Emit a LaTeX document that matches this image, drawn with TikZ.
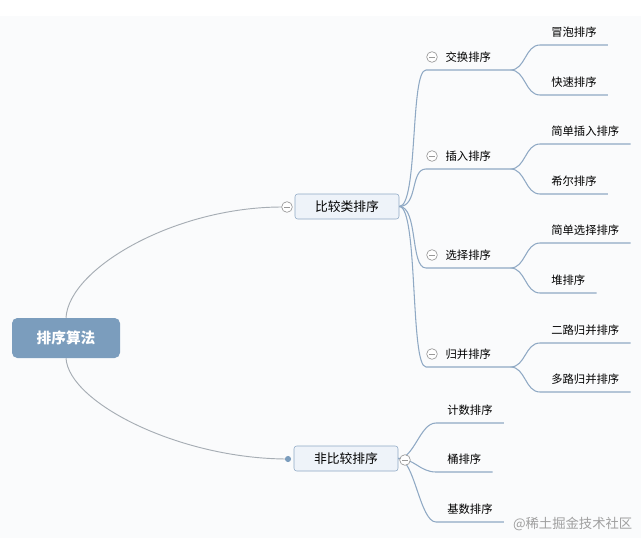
\documentclass[tikz,border=0pt]{standalone}
\usepackage{fontspec}
\newfontfamily\cjk{Noto Sans CJK SC}
\usetikzlibrary{positioning}

\definecolor{rootblue}{HTML}{7B9DBD}
\definecolor{boxfill}{HTML}{EEF3F9}
\definecolor{boxline}{HTML}{8EA9C5}
\definecolor{twigc}{HTML}{8FA9C4}
\definecolor{stemc}{HTML}{A6ADB4}
\definecolor{paper}{HTML}{FAFBFC}

\begin{document}
\begin{tikzpicture}[
    x=0.75pt, y=-0.75pt,
    font=\cjk,
    root/.style={fill=rootblue, rounded corners=4pt, minimum width=81pt, minimum height=30pt, text=white, font=\cjk\fontsize{11}{13}\selectfont\bfseries},
    topic/.style={draw=boxline, fill=boxfill, rounded corners=2pt, minimum width=78pt, minimum height=18.75pt, font=\cjk\fontsize{9.6}{11}\selectfont},
    sub/.style={minimum width=63pt, minimum height=19.5pt, inner sep=0pt, anchor=south west, font=\cjk\fontsize{8.5}{10}\selectfont},
    leaf/.style={minimum height=19.5pt, inner xsep=8.25pt, inner ysep=0pt, anchor=south west, font=\cjk\fontsize{8.5}{10}\selectfont},
    fold/.style={circle, draw=gray!80, fill=white, minimum size=8pt, inner sep=0pt, line width=0.5pt,
        path picture={\draw[gray!80, line width=0.5pt] ([xshift=2pt]path picture bounding box.west) -- ([xshift=-2pt]path picture bounding box.east);}},
    stem/.style={draw=stemc, line width=0.7pt},
    twig/.style={draw=twigc, line width=0.8pt}
]
\fill[white] (0,0) rectangle (641,538);
\fill[paper] (0,16) rectangle (641,538);
\useasboundingbox (0,0) rectangle (641,538);

\node[root] (root) at (66,338) {排序算法};

\node[topic] (cmp) at (347,206.5) {比较类排序};
\node[topic] (noncmp) at (346,458.5) {非比较排序};

% comparison sorts
\node[sub] (swap) at (426,70) {交换排序};
\node[sub] (insert) at (426,169) {插入排序};
\node[sub] (select) at (426,268) {选择排序};
\node[sub] (merge) at (426,367) {归并排序};

\node[leaf] (bubble) at (540,45) {冒泡排序};
\node[leaf] (quick) at (540,95) {快速排序};
\node[leaf] (straight) at (540,144) {简单插入排序};
\node[leaf] (shell) at (540,194) {希尔排序};
\node[leaf] (simplesel) at (540,243) {简单选择排序};
\node[leaf] (heap) at (540,293) {堆排序};
\node[leaf] (twoway) at (540,343) {二路归并排序};
\node[leaf] (multiway) at (540,392) {多路归并排序};

% non-comparison sorts
\node[leaf] (counting) at (436,423) {计数排序};
\node[leaf] (bucket) at (436,472) {桶排序};
\node[leaf] (radix) at (436,522) {基数排序};

\node[text=gray!75, font=\cjk\fontsize{10}{12}\selectfont, anchor=east] (mark) at (637,524) {@稀土掘金技术社区};

% root curves
\path[stem] (root.north) .. controls (69,268) and (175,207) .. (282,207);
\path[stem] (root.south) .. controls (69,403) and (180,459) .. (288,459);
\fill[rootblue] (288,459) circle (2.3pt);

% level one to level two
\foreach \n in {swap, insert, select, merge}
    \path[twig] (cmp.east) .. controls +(19,0) and +(-16,0) .. (\n.south west) -- (\n.south east);
\foreach \n in {counting, bucket, radix}
    \path[twig] (noncmp.east) .. controls +(16,0) and +(-16,0) .. (\n.south west) -- (\n.south east);

% level two to leaves
\path[twig] (swap.south east) .. controls +(15,0) and +(-15,0) .. (bubble.south west) -- (bubble.south east);
\path[twig] (swap.south east) .. controls +(15,0) and +(-15,0) .. (quick.south west) -- (quick.south east);
\path[twig] (insert.south east) .. controls +(15,0) and +(-15,0) .. (straight.south west) -- (straight.south east);
\path[twig] (insert.south east) .. controls +(15,0) and +(-15,0) .. (shell.south west) -- (shell.south east);
\path[twig] (select.south east) .. controls +(15,0) and +(-15,0) .. (simplesel.south west) -- (simplesel.south east);
\path[twig] (select.south east) .. controls +(15,0) and +(-15,0) .. (heap.south west) -- (heap.south east);
\path[twig] (merge.south east) .. controls +(15,0) and +(-15,0) .. (twoway.south west) -- (twoway.south east);
\path[twig] (merge.south east) .. controls +(15,0) and +(-15,0) .. (multiway.south west) -- (multiway.south east);

% fold markers
\node[fold] (cmpfold) at (287,207) {};
\node[fold] (noncmpfold) at (405,460) {};
\node[fold] (swapfold) at (432,57) {};
\node[fold] (insertfold) at (432,156) {};
\node[fold] (selectfold) at (432,255) {};
\node[fold] (mergefold) at (432,354) {};
\end{tikzpicture}
\end{document}
